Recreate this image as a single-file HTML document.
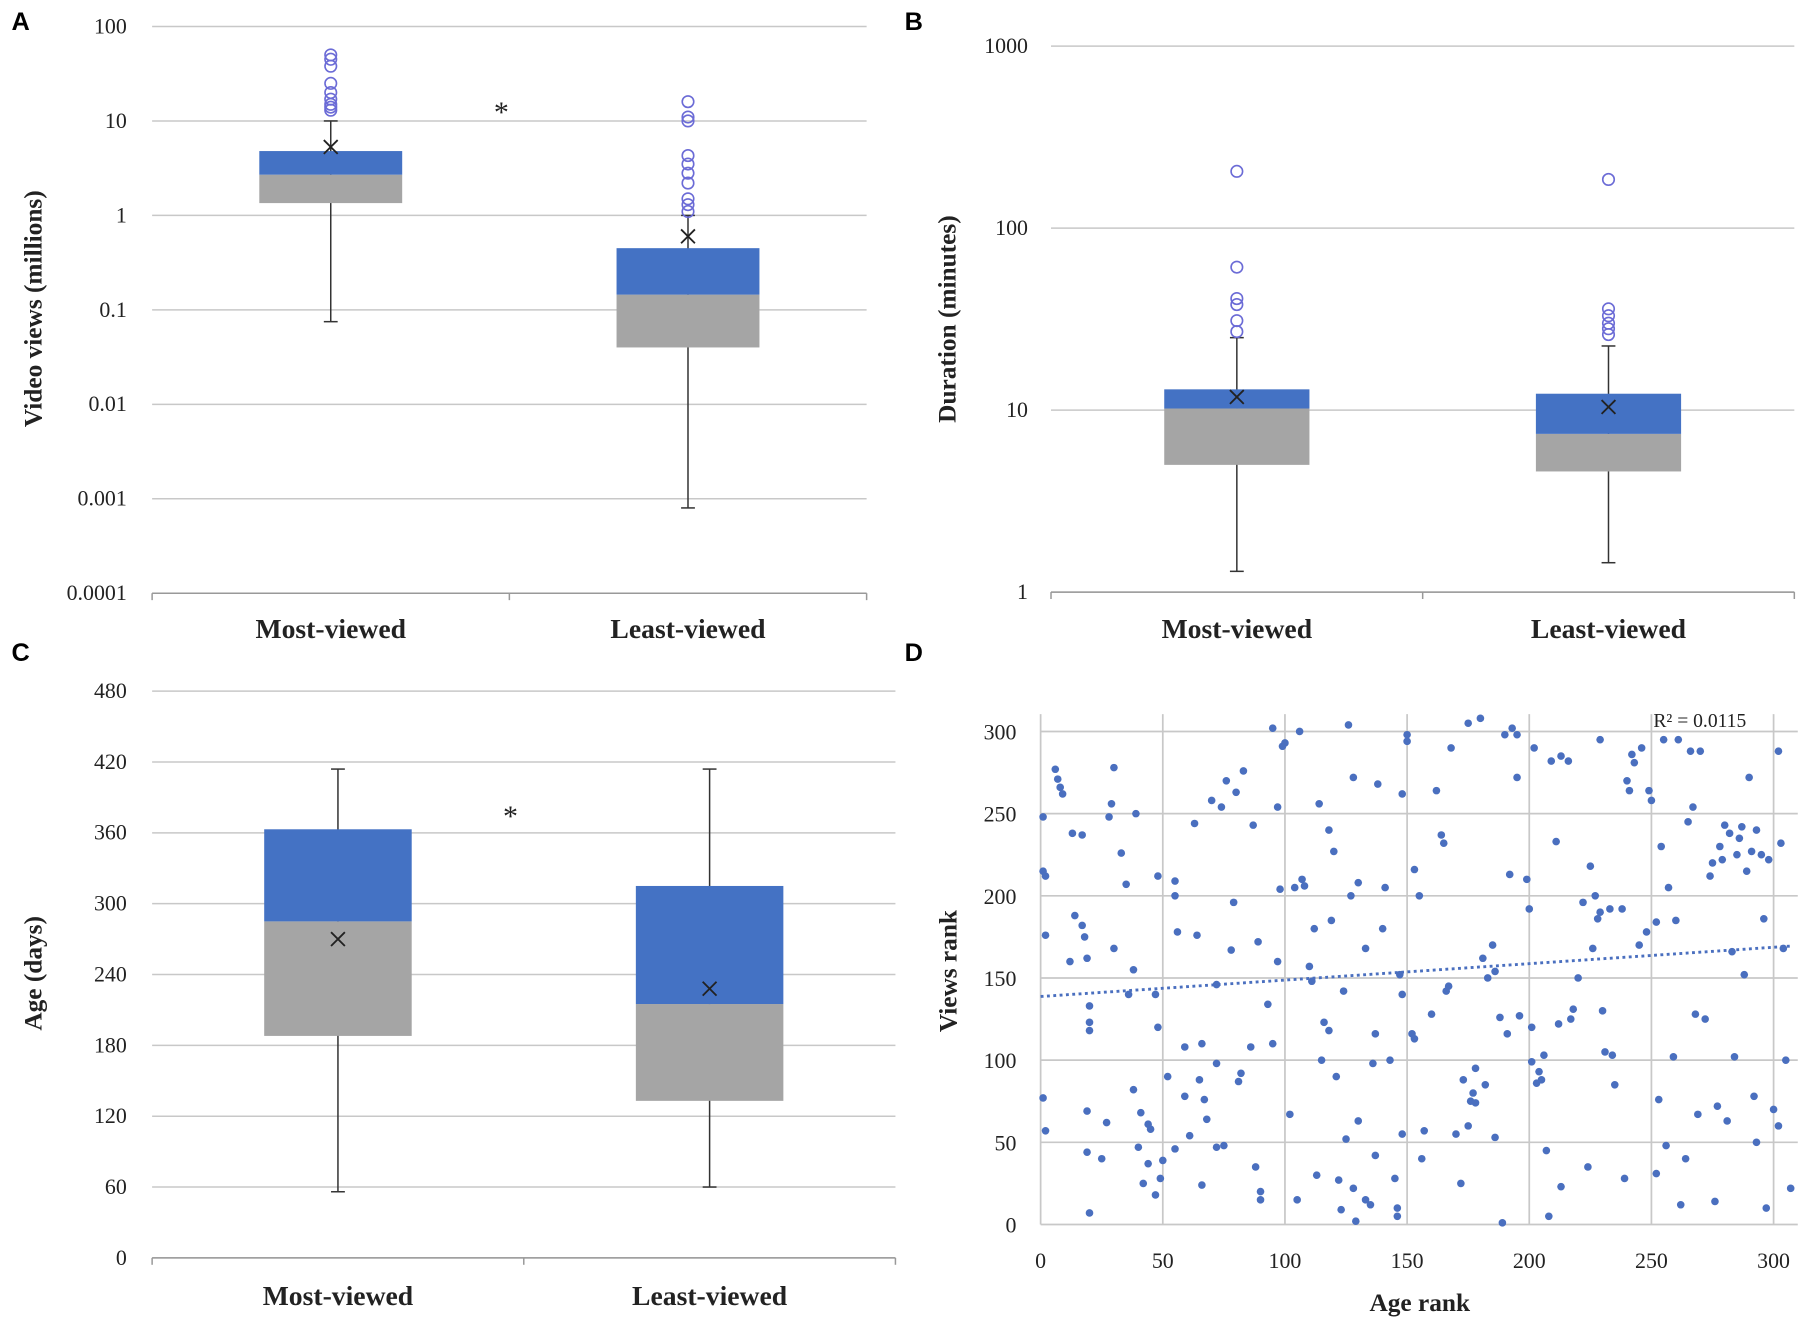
<!DOCTYPE html>
<html><head><meta charset="utf-8"><style>
html,body{margin:0;padding:0;background:#fff;}
svg{display:block;}
text{font-family:"Liberation Serif",serif;fill:#222;}
.lt{font-family:"Liberation Sans",sans-serif;font-weight:bold;font-size:22px;fill:#000;}
.tk{font-size:19px;}
.cat{font-size:24px;font-weight:bold;}
.ttl{font-size:22px;font-weight:bold;}
</style></head><body>
<svg id="fig" width="1807" height="1327" viewBox="0 0 1568 1152" preserveAspectRatio="none" xmlns="http://www.w3.org/2000/svg">
<defs><clipPath id="clipA"><rect x="36" y="0" width="800" height="560"/></clipPath></defs>
<g id="pA"></g>
<g id="pB"></g>
<g id="pC"></g>
<g id="pD"></g>
</svg>
<script>
// ---- Panel A data (video views, millions) ----
const catsA = ["Most-viewed","Least-viewed"];
const lowA = [0.075, 0.0008];
const q1A = [1.35, 0.04];
const medA = [2.7, 0.145];
const q3A = [4.8, 0.45];
const highA = [10, 1.0];
const meanA = [5.3, 0.6];
const outA0 = [13,14,15,17,20,25,38,45,50];
const outA1 = [1.1,1.3,1.5,2.2,2.8,3.5,4.3,10,11,16];
const ticksA = ["100","10","1","0.1","0.01","0.001","0.0001"];
// ---- Panel B data (duration, minutes) ----
const catsB = ["Most-viewed","Least-viewed"];
const lowB = [1.3, 1.45];
const q1B = [5, 4.6];
const medB = [10.2, 7.4];
const q3B = [13, 12.3];
const highB = [25, 22.5];
const meanB = [11.8, 10.4];
const outB0 = [27,31,38,41,61,205];
const outB1 = [26,28,30,33,36,185];
const ticksB = ["1000","100","10","1"];
// ---- Panel C data (age, days) ----
const catsC = ["Most-viewed","Least-viewed"];
const lowC = [56, 60];
const q1C = [188, 133];
const medC = [285, 215];
const q3C = [363, 315];
const highC = [414, 414];
const meanC = [270, 228];
const ticksC = [0,60,120,180,240,300,360,420,480];
// ---- Panel D data (age rank vs views rank) ----
const ageRank = [1,2,1,2,1,2,7,8,9,6,13,17,14,17,19,12,18,20,20,20,19,19,20,25,27,28,29,30,30,33,35,36,38,40,41,42,44,44,45,38,39,47,48,48,50,49,47,
52,55,55,56,55,59,59,61,63,64,65,66,67,66,68,70,72,72,74,75,72,76,78,79,80,81,82,83,86,87,88,89,90,90,93,95,95,97,97,98,99,100,102,104,105,
106,107,108,110,111,112,113,114,115,116,118,118,120,119,121,122,123,124,125,126,127,128,128,129,130,130,133,133,135,136,137,137,138,140,141,143,145,146,146,147,148,148,148,150,150,152,153,153,155,
156,157,160,162,164,165,166,167,168,170,172,173,175,175,176,177,178,178,180,181,182,183,185,186,186,188,189,190,191,192,193,195,195,196,199,200,201,201,202,
203,204,205,206,207,208,209,211,212,213,213,216,217,218,220,222,224,225,226,227,228,229,229,230,231,233,234,235,238,239,240,241,242,243,245,246,248,249,250,252,
252,253,254,255,256,257,259,260,261,262,264,265,266,267,268,269,270,272,274,275,276,277,278,279,280,281,282,283,284,285,286,287,288,289,290,291,292,293,293,295,296,297,298,300,302,302,303,304,305,307];
const viewsRank = [215,212,248,176,77,57,271,266,262,277,238,237,188,182,162,160,175,123,118,133,69,44,7,40,62,248,256,278,168,226,207,140,82,47,68,25,37,61,58,155,250,140,120,212,39,28,18,
90,200,209,178,46,78,108,54,244,176,88,110,76,24,64,258,98,47,254,48,146,270,167,196,263,87,92,276,108,243,35,172,20,15,134,110,302,160,254,204,291,293,67,205,15,
300,210,206,157,148,180,30,256,100,123,240,118,227,185,90,27,9,142,52,304,200,272,22,2,63,208,168,15,12,98,116,42,268,180,205,100,28,10,5,152,262,55,140,294,298,116,113,216,200,
40,57,128,264,237,232,142,145,290,55,25,88,305,60,75,80,95,74,308,162,85,150,170,154,53,126,1,298,116,213,302,298,272,127,210,192,120,99,290,
86,93,88,103,45,5,282,233,122,23,285,282,125,131,150,196,35,218,168,200,186,295,190,130,105,192,103,85,192,28,270,264,286,281,170,290,178,264,258,31,
184,76,230,295,48,205,102,185,295,12,40,245,288,254,128,67,288,125,212,220,14,72,230,222,243,63,238,166,102,225,235,242,152,215,272,227,78,240,50,225,186,10,222,70,60,288,232,168,100,22];
const ticksDx = [0,50,100,150,200,250,300];
const ticksDy = [0,50,100,150,200,250,300];
const r2Label = "R² = 0.0115";

const NS="http://www.w3.org/2000/svg";
function mk(parent,tag,attrs,txt){const e=document.createElementNS(NS,tag);for(const k in attrs)e.setAttribute(k,attrs[k]);if(txt!==undefined)e.textContent=txt;parent.appendChild(e);return e;}
const BLUE="#4472C4",GREY="#A5A5A5",GRID="#c8c8c8",OUT="#6b6bd6";

function xMark(g,x,y){
  const p=mk(g,'path',{d:`M${x-6},${y-6}L${x+6},${y+6}M${x+6},${y-6}L${x-6},${y+6}`,stroke:'#222','stroke-width':1.6});
  
  
}

function boxPanel(g,opt){
  const {x0,x1,yf,ticks,tickVals,cats,low,q1,med,q3,high,mean,outs,bw,yTitle,yTitleX,yMid,catY,tickX,clip}=opt;
  const tg=mk(g,'g',clip?{'clip-path':'url(#clipA)'}:{});
  tickVals.forEach((v,i)=>{
    const y=yf(v);
    const l=mk(g,'line',{x1:x0,x2:x1,y1:y,y2:y,stroke:GRID,'stroke-width':1.3});
    
    
    const t=mk(tg,'text',{x:tickX,y:y+6,'text-anchor':'end',class:'tk'},ticks[i]);
    
    
  });
  const ax=yf(tickVals[0]);
  const yb=Math.max(...tickVals.map(yf));
  const axis=mk(g,'line',{x1:x0,x2:x1,y1:yb,y2:yb,stroke:'#999','stroke-width':1.3});
  
  
  const cw=(x1-x0)/cats.length;
  for(let i=0;i<=cats.length;i++){mk(g,'line',{x1:x0+i*cw,x2:x0+i*cw,y1:yb,y2:yb+6,stroke:'#999','stroke-width':1.3});}
  cats.forEach((c,i)=>{
    const cx=x0+cw*(i+0.5);
    const w=mk(g,'line',{x1:cx,x2:cx,y1:yf(low[i]),y2:yf(high[i]),stroke:'#333','stroke-width':1.3});
    
    
    [low[i],high[i]].forEach(v=>mk(g,'line',{x1:cx-6,x2:cx+6,y1:yf(v),y2:yf(v),stroke:'#333','stroke-width':1.3}));
    const r1=mk(g,'rect',{x:cx-bw/2,y:yf(med[i]),width:bw,height:yf(q1[i])-yf(med[i]),fill:GREY});
    
    
    const r2=mk(g,'rect',{x:cx-bw/2,y:yf(q3[i]),width:bw,height:yf(med[i])-yf(q3[i]),fill:BLUE});
    
    
    if(outs) outs[i].forEach(v=>{
      const o=mk(g,'circle',{cx:cx,cy:yf(v),r:5,fill:'none',stroke:OUT,'stroke-width':1.4});
      
      
    });
    xMark(g,cx,yf(mean[i]));
    const ct=mk(g,'text',{x:cx,y:catY,'text-anchor':'middle',class:'cat'},c);
    
    
  });
  const tt=mk(g,'text',{x:yTitleX,y:yMid,'text-anchor':'middle',class:'ttl',transform:`rotate(-90 ${yTitleX} ${yMid})`},yTitle);
  
  
}
function letter(g,s,x,y){const t=mk(g,'text',{x:x,y:y,class:'lt'},s);}

// Panel A
const gA=document.getElementById('pA');
const yA=v=>187-82*Math.log10(v);
boxPanel(gA,{x0:132,x1:752,yf:yA,ticks:ticksA,tickVals:[100,10,1,0.1,0.01,0.001,0.0001],cats:catsA,low:lowA,q1:q1A,med:medA,q3:q3A,high:highA,mean:meanA,outs:[outA0,outA1],bw:124,yTitle:"Video views (millions)",yTitleX:36,yMid:268,catY:554,tickX:110,clip:true});
letter(gA,'A',10,26);
const sA=mk(gA,'text',{x:435,y:106,'text-anchor':'middle','font-size':'26px'},'*');


// Panel B
const gB=document.getElementById('pB');
const yB=v=>514-158*Math.log10(v);
boxPanel(gB,{x0:912,x1:1557,yf:yB,ticks:ticksB,tickVals:[1000,100,10,1],cats:catsB,low:lowB,q1:q1B,med:medB,q3:q3B,high:highB,mean:meanB,outs:[outB0,outB1],bw:126,yTitle:"Duration (minutes)",yTitleX:829,yMid:277,catY:554,tickX:892});
letter(gB,'B',785,26);

// Panel C
const gC=document.getElementById('pC');
const yC=v=>1092-v*492/480;
boxPanel(gC,{x0:132,x1:777,yf:yC,ticks:ticksC.map(String),tickVals:ticksC,cats:catsC,low:lowC,q1:q1C,med:medC,q3:q3C,high:highC,mean:meanC,outs:null,bw:128,yTitle:"Age (days)",yTitleX:36,yMid:845,catY:1133,tickX:110});
letter(gC,'C',10,574);
const sC=mk(gC,'text',{x:443,y:717,'text-anchor':'middle','font-size':'26px'},'*');


// Panel D
const gD=document.getElementById('pD');
letter(gD,'D',785,574);
const xD=v=>903+v*636/300;
const yD=v=>1063-v*428/300;
ticksDx.forEach(v=>{
  const l=mk(gD,'line',{x1:xD(v),x2:xD(v),y1:620,y2:1063,stroke:GRID,'stroke-width':1.5});
  
  const t=mk(gD,'text',{x:xD(v),y:1101,'text-anchor':'middle',class:'tk'},String(v));
  
});
ticksDy.forEach(v=>{
  const l=mk(gD,'line',{x1:903,x2:1560,y1:yD(v),y2:yD(v),stroke:GRID,'stroke-width':1.5});
  
  const t=mk(gD,'text',{x:882,y:yD(v)+7,'text-anchor':'end',class:'tk'},String(v));
  
});
ageRank.forEach((a,i)=>{
  const c=mk(gD,'circle',{cx:xD(a),cy:yD(viewsRank[i]),r:3.3,fill:'#4a6fbf'});
  
  
});
// linear regression trendline
(function(){
  const n=ageRank.length;let sx=0,sy=0,sxx=0,sxy=0;
  for(let i=0;i<n;i++){sx+=ageRank[i];sy+=viewsRank[i];sxx+=ageRank[i]*ageRank[i];sxy+=ageRank[i]*viewsRank[i];}
  const b=(n*sxy-sx*sy)/(n*sxx-sx*sx),a=(sy-b*sx)/n;
  const tl=mk(gD,'line',{x1:xD(0),y1:yD(a),x2:xD(307),y2:yD(a+b*307),stroke:'#4a6fbf','stroke-width':2.5,'stroke-dasharray':'2.5 3'});
  
  
})();
const r2=mk(gD,'text',{x:1475,y:631,'text-anchor':'middle','font-size':'17px'},r2Label);

const xt=mk(gD,'text',{x:1232,y:1138,'text-anchor':'middle',class:'ttl','font-size':'24px'},'Age rank');

const yt=mk(gD,'text',{x:830,y:843,'text-anchor':'middle',class:'ttl',transform:'rotate(-90 830 843)'},'Views rank');

</script>
</body></html>
